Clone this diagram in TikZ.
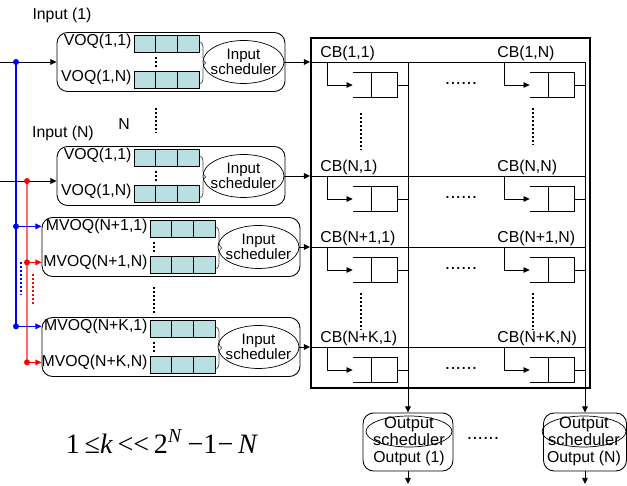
\documentclass[tikz,border=0pt]{standalone}
\usepackage{fontspec}
\setmainfont{Liberation Sans}
\newfontfamily\condfont{Liberation Serif}
\usetikzlibrary{arrows.meta, positioning, calc, shapes.geometric, decorations.pathreplacing}
\definecolor{cellcyan}{HTML}{B9DFE0}
\definecolor{linkred}{HTML}{FF6B6B}

\begin{document}
\begin{tikzpicture}[
    x=0.02cm, y=-0.02cm,
    >={Triangle[length=3.5pt,width=3.2pt]},
    arr/.style={->, line width=0.5pt},
    lbl/.style={font=\fontsize{9}{9}\selectfont, inner sep=0pt},
    cblbl/.style={lbl, anchor=base west},
    inbox/.style={draw, rounded corners=6pt, line width=0.5pt, minimum height=1.18cm},
    cell/.style={draw, fill=cellcyan, minimum width=0.434cm, minimum height=0.34cm, inner sep=0pt, line width=0.5pt},
    sched/.style={draw, ellipse, minimum width=1.62cm, minimum height=0.86cm, inner xsep=-3.5pt, inner ysep=-1pt, align=center, font=\fontsize{8.6}{8.4}\selectfont},
    osched/.style={sched, minimum width=1.72cm, minimum height=0.62cm, inner xsep=-3.5pt, inner ysep=-2.8pt, font=\fontsize{9.4}{8.4}\selectfont},
    outbox/.style={draw, rounded corners=6pt, line width=0.5pt, minimum height=1.16cm},
    buf/.style={minimum width=0.88cm, minimum height=0.48cm, inner sep=0pt},
    hdots/.style={font=\fontsize{11}{11}\selectfont, inner sep=0pt},
    vdots/.style={line width=0.9pt, dash pattern=on 0.9pt off 1.4pt},
    brc/.style={decorate, decoration={brace, amplitude=3pt}, gray!60!black, line width=0.4pt},
]
\useasboundingbox (0,0) rectangle (627,486);
% === Crossbar frame and columns ===
\node[draw, line width=1.1pt, minimum width=5.58cm, minimum height=7cm, inner sep=0pt] (cbar) at (450.5,213) {};
\coordinate (col1) at (408,62);
\coordinate (colN) at (585,62);
% === Input modules ===
\foreach \i/\cy/\w/\qx/\sx/\dx/\pre/\ri in {1/62/4.56/134/243.5/22/VOQ/1, 2/176/4.56/134/243.5/22/VOQ/1, 3/247/5.16/150/258.5/4/MVOQ/N+1, 4/347/5.16/150/258.5/4/MVOQ/N+K} {
  \node[inbox, minimum width=\w cm] (box\i) at (171,\cy) {};
  \foreach \row/\dy in {1/-18, 2/18} {
    \foreach \k in {0,1,2}
      \node[cell] (c\i-\row-\k) at (\qx+10.85+21.7*\k,\cy+\dy) {};
  }
  \node[lbl, anchor=east] (v\i-1) at ([xshift=-1pt,yshift=1.5pt]c\i-1-0.west) {\pre(\ri,1)};
  \node[lbl, anchor=east] (v\i-2) at ([xshift=-1pt,yshift=1.5pt]c\i-2-0.west) {\pre(\ri,N)};
  \draw[vdots] (\qx+\dx,\cy-5) -- (\qx+\dx,\cy+6);
  \draw[brc] ([xshift=0.5pt,yshift=-4pt]c\i-1-2.north east) -- ([xshift=0.5pt,yshift=3pt]c\i-2-2.south east);
  \node[sched] (s\i) at (\sx,\cy) {Input\\scheduler};
  \draw[arr] (s\i.east) -- (s\i.east -| cbar.west);
  \draw (s\i.east -| cbar.west) -- (s\i.east -| colN);
}
\node[lbl] (in1lbl) at (62,15) {Input (1)};
\node[lbl] (inNlbl) at (63,133) {Input (N)};
\node[lbl] (nlbl) at (124,124) {N};
\draw[vdots] (156,108) -- (156,133);
\draw[vdots] (154,287) -- (154,313);
% === Input links ===
\coordinate (bx) at (16,0);
\coordinate (rx) at (27,0);
\coordinate (in1) at (0,62);
\coordinate (in2) at (0,181);
\coordinate (bd1) at (in1 -| bx);
\coordinate (rd2) at (in2 -| rx);
\coordinate (bd3) at (v3-1.west -| bx);
\coordinate (rd3) at (v3-2.west -| rx);
\coordinate (bd4) at (v4-1.west -| bx);
\coordinate (rd4) at (v4-2.west -| rx);
\draw[blue, line width=0.6pt] (bd1) -- (bd4);
\draw[linkred, line width=0.8pt] (rd2) -- (rd4);
\draw[arr] (in1) -- (in1 -| box1.west);
\draw[arr] (in2) -- (in2 -| box2.west);
\draw[arr, blue] (bd3) -- (bd3 -| box3.west);
\draw[arr, blue] (bd4) -- (bd4 -| box4.west);
\draw[arr, red] (rd3) -- (rd3 -| box3.west);
\draw[arr, red] (rd4) -- (rd4 -| box4.west);
\draw[vdots, blue] (21,262) -- (21,295);
\draw[vdots, red] (33,274) -- (33,306);
\foreach \p in {bd1,bd3,bd4} \fill[blue] (\p) circle (3);
\foreach \p in {rd2,rd3,rd4} \fill[red] (\p) circle (3);
% === Crosspoint buffers ===
\foreach \r/\ry/\ri in {1/62/1, 2/176/N, 3/247/N+1, 4/347/N+K} {
  \foreach \c/\tx/\bx in {1/327/375, N/504/552} {
    \coordinate (t\r\c) at (\tx,\ry);
    \node[buf] (b\r\c) at (\bx,\ry+23) {};
    \node[cblbl] (cb\r\c) at (\tx-7,\ry-4) {CB(\ri,\c)};
    \draw[arr] (t\r\c) |- (b\r\c.west);
    \draw (b\r\c.north west) -- (b\r\c.north east) -- (b\r\c.south east) -- (b\r\c.south west);
    \draw ($(b\r\c.north west)!0.41!(b\r\c.north east)$) -- ($(b\r\c.south west)!0.41!(b\r\c.south east)$);
    \draw (b\r\c.east) -- (b\r\c.east -| col\c);
  }
  \node[hdots] (hd\r) at (461,\ry+21) {......};
}
\draw[vdots] (361,113) -- (361,150);
\draw[vdots] (533,108) -- (533,145);
\draw[vdots] (361,293) -- (361,330);
\draw[vdots] (533,293) -- (533,330);
% === Output modules ===
\node[outbox, minimum width=1.8cm] (out1) at (408,442) {};
\node[outbox, minimum width=1.66cm] (outN) at (585,442) {};
\node[osched] (os1) at (409,431.5) {Output\\scheduler};
\node[osched, minimum width=1.6cm] (osN) at (584,431.5) {Output\\scheduler};
\node[lbl] (ol1) at (409,458) {Output (1)};
\node[lbl] (olN) at (584,458) {Output (N)};
\draw[arr] (col1) -- (out1.north);
\draw[arr] (colN) -- (outN.north);
\coordinate (o1) at (408,484);
\coordinate (oN) at (585,484);
\draw[arr] (out1.south) -- (o1);
\draw[arr] (outN.south) -- (oN);
\node[hdots] (odots) at (483,438) {......};
% === Condition on K ===
\node[inner sep=0pt] (cond) at (162,442) {\condfont\fontsize{16}{16}\selectfont 1\,≤\textit{k}\,<<\,2\textsuperscript{\textit{N}}\,−1−\,\textit{N}};
\end{tikzpicture}
\end{document}
